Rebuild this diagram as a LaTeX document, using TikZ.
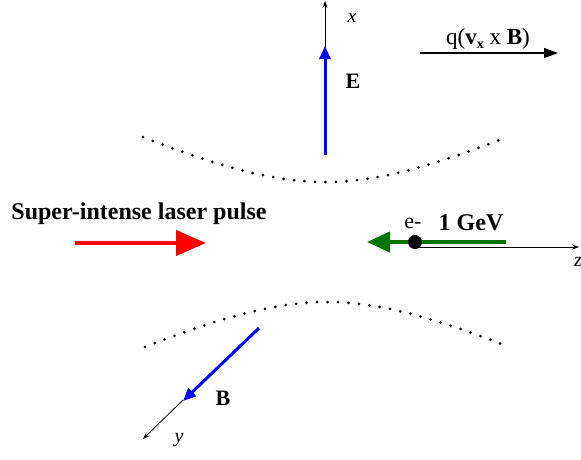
\documentclass[tikz,border=0pt]{standalone}
\usepackage{fontspec}
\setmainfont{Liberation Serif}
\usepackage{tikz}
\usetikzlibrary{arrows.meta}

\begin{document}
\begin{tikzpicture}[x=1pt,y=-1pt,>=Stealth,
  axis/.style={->,draw=black,line width=0.8pt,>={Stealth[length=7pt,width=5pt]}},
  field/.style={->,line width=3pt,>={Triangle[length=13pt,width=11pt]}},
  beam/.style={line width=3pt,line cap=round,dash pattern=on 0pt off 10.5pt},
  lbl/.style={inner sep=0pt,font=\fontsize{22}{24}\selectfont}]
\useasboundingbox (0,0) rectangle (581,459);
% axes
\coordinate (origin) at (325,155);
\coordinate (xtip) at (325,1);
\coordinate (zstart) at (415,247);
\coordinate (ztip) at (579,247);
\coordinate (ystart) at (183,400);
\coordinate (ytip) at (143,439);
\draw[axis] (origin) -- (xtip);
\draw[axis] (zstart) -- (ztip);
\draw[axis] (ystart) -- (ytip);
\node[lbl,font=\fontsize{20}{22}\selectfont\itshape] (xlabel) at (352,18) {x};
\node[lbl,font=\fontsize{20}{22}\selectfont\itshape] (ylabel) at (179,440) {y};
\node[lbl,font=\fontsize{20}{22}\selectfont\itshape,anchor=west] (zlabel) at (574,262) {z};
% laser focus
\draw[beam] plot[domain=143:507,samples=80,smooth] (\x,{242-60*sqrt(1+((\x-325)/127)^2)});
\draw[beam] plot[domain=145:509,samples=80,smooth] (\x,{242+60*sqrt(1+((\x-327)/127)^2)});
% fields
\coordinate (Ebase) at (325,155);
\coordinate (Etip) at (325,46);
\draw[field,blue] (Ebase) -- (Etip);
\node[lbl,font=\fontsize{22}{24}\selectfont\bfseries] (Elabel) at (353,81) {E};
\coordinate (Bbase) at (259,328);
\coordinate (Btip) at (183,401);
\draw[field,blue] (Bbase) -- (Btip);
\node[lbl,font=\fontsize{22}{24}\selectfont\bfseries] (Blabel) at (223,398) {B};
% force
\node[lbl,font=\fontsize{23}{25}\selectfont] (force) at (488,39) {q(\textbf{v}\raisebox{-0.35ex}{\fontsize{14}{15}\selectfont\bfseries x} x \textbf{B})};
\coordinate (Fstart) at (420,53);
\coordinate (Fend) at (558,53);
\draw[->,line width=1.6pt,>={Triangle[length=14pt,width=10pt]}] (Fstart) -- (Fend);
% laser
\node[lbl,font=\fontsize{24}{26}\selectfont\bfseries] (laser) at (139,214) {Super-intense laser pulse};
\coordinate (Lstart) at (75,243);
\coordinate (Ltip) at (206,243);
\draw[field,red,line width=4.5pt,>={Triangle[length=30pt,width=25pt]}] (Lstart) -- (Ltip);
% electron
\coordinate (Gstart) at (506,242);
\coordinate (Gtip) at (367,242);
\draw[field,green!45!black,line width=4.5pt,>={Triangle[length=23pt,width=20pt]}] (Gstart) -- (Gtip);
\node[circle,fill=black,inner sep=0pt,minimum size=14pt] (electron) at (415,242) {};
\node[lbl] (elabel) at (413,223) {e-};
\node[lbl,font=\fontsize{24}{26}\selectfont\bfseries] (energy) at (471,223) {1 GeV};
\end{tikzpicture}
\end{document}
